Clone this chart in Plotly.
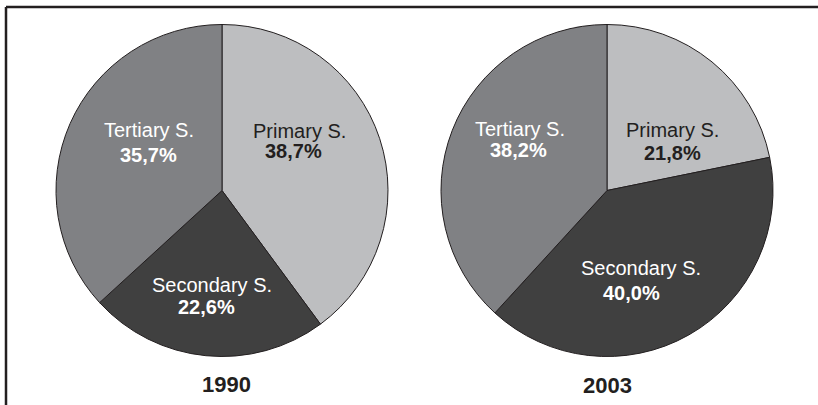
import plotly.graph_objects as go

# ── Data ──────────────────────────────────────────────────────────────────────
sectors     = ["Primary S.", "Secondary S.", "Tertiary S."]
shares_1990 = [38.7, 22.6, 35.7]
shares_2003 = [21.8, 40.0, 38.2]
years       = ["1990", "2003"]

slice_colors = ["#bdbec0", "#404040", "#808184"]
text_colors  = ["#231f20", "white", "white"]
ink          = "#231f20"

# ── Layout helpers (pixel positions in the 818x405 page) ─────────────────────
W, H = 818, 405
domains_x = [[56 / W, 388 / W], [441 / W, 773 / W]]
domain_y  = [(H - 357) / H, (H - 24) / H]

# label / value text anchors per pie, per sector (Primary, Secondary, Tertiary)
label_pos = [
    [(299.5, 131), (212, 285), (149, 130)],
    [(672, 130), (641, 267.5), (520, 128.5)],
]
value_pos = [
    [(293, 151), (206, 307), (148, 154.5)],
    [(672, 152.5), (631, 292.5), (518.5, 150)],
]
year_pos = [(226.5, 384), (607.5, 385.5)]

fig = go.Figure()

for shares, dx in zip([shares_1990, shares_2003], domains_x):
    fig.add_trace(go.Pie(
        labels=sectors,
        values=shares,
        sort=False,
        direction="clockwise",
        rotation=0,
        domain=dict(x=dx, y=domain_y),
        marker=dict(colors=slice_colors, line=dict(color=ink, width=1)),
        textinfo="none",
        hoverinfo="label+value",
        showlegend=False,
    ))


def px(x, y):
    return x / W, 1 - y / H


# slice captions
for shares, lpos, vpos in zip([shares_1990, shares_2003], label_pos, value_pos):
    for name, val, col, lp, vp in zip(sectors, shares, text_colors, lpos, vpos):
        x, y = px(*lp)
        fig.add_annotation(text=name, xref="paper", yref="paper", x=x, y=y,
                           showarrow=False, xanchor="center", yanchor="middle",
                           font=dict(size=20, color=col, family="Liberation Sans"))
        x, y = px(*vp)
        fig.add_annotation(text="<b>" + f"{val:.1f}".replace(".", ",") + "%</b>",
                           xref="paper", yref="paper", x=x, y=y,
                           showarrow=False, xanchor="center", yanchor="middle",
                           font=dict(size=20, color=col, family="Liberation Sans"))

# year captions under each pie
for year, yp in zip(years, year_pos):
    x, y = px(*yp)
    fig.add_annotation(text=f"<b>{year}</b>", xref="paper", yref="paper",
                       x=x, y=y, showarrow=False, xanchor="center", yanchor="middle",
                       font=dict(size=22, color=ink, family="Liberation Sans"))

# frame: top and left rules only
fig.add_shape(type="line", xref="paper", yref="paper",
              x0=6 / W, x1=1, y0=1 - 7 / H, y1=1 - 7 / H,
              line=dict(color=ink, width=2.5))
fig.add_shape(type="line", xref="paper", yref="paper",
              x0=6 / W, x1=6 / W, y0=0, y1=1 - 7 / H,
              line=dict(color=ink, width=2.5))

fig.update_layout(
    width=W, height=H,
    margin=dict(l=0, r=0, t=0, b=0),
    paper_bgcolor="white",
    plot_bgcolor="white",
    font=dict(family="Liberation Sans", color=ink),
)

fig.write_html("out.html", config={"displayModeBar": False},
               post_script="document.body.style.margin='0';")
